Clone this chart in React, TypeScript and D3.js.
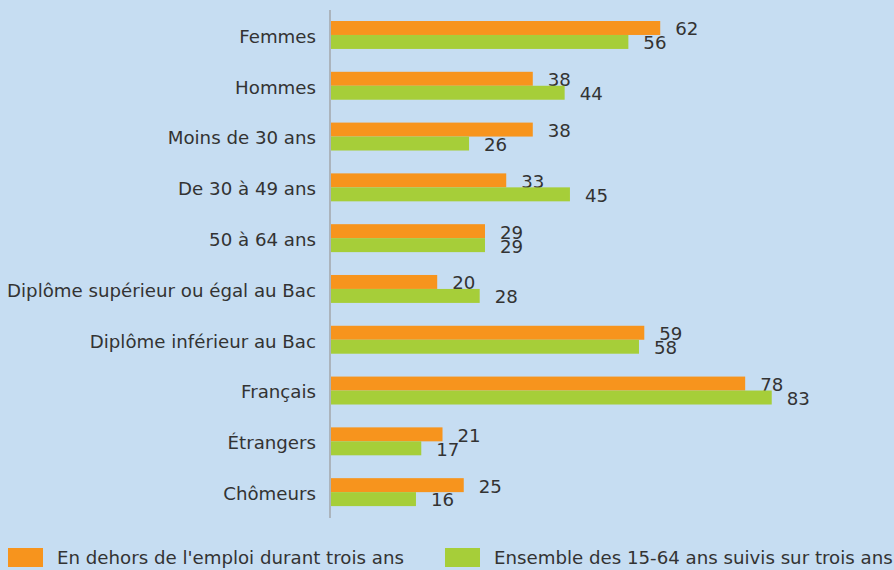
import React from "react";
import * as d3 from "d3";

const categories = [
  "Femmes",
  "Hommes",
  "Moins de 30 ans",
  "De 30 à 49 ans",
  "50 à 64 ans ",
  "Diplôme supérieur ou égal au Bac",
  "Diplôme inférieur au Bac",
  "Français",
  "Étrangers",
  "Chômeurs",
];
const horsEmploi = [62, 38, 38, 33, 29, 20, 59, 78, 21, 25];
const ensemble = [56, 44, 26, 45, 29, 28, 58, 83, 17, 16];
const seriesNames = [
  "En dehors de l'emploi durant trois ans",
  "Ensemble des 15-64 ans suivis sur trois ans",
];
const colors = ["#F7941D", "#A6CE39"];

export default function App() {
  const W = 894;
  const H = 570;
  const x0 = 331;
  const x = d3.scaleLinear().domain([0, 100]).range([x0, x0 + 531]);
  const y = d3
    .scaleBand<string>()
    .domain(categories)
    .range([8.3, 518.8])
    .paddingInner(0.45)
    .paddingOuter(0.25);
  const inner = d3
    .scaleBand<number>()
    .domain([0, 1])
    .range([0, y.bandwidth()]);
  const font = "'DejaVu Sans', Verdana, sans-serif";
  const fs = 18.2;
  const series = [horsEmploi, ensemble];
  return (
    <svg
      width={W}
      height={H}
      style={{ position: "absolute", left: 0, top: 0, display: "block" }}
      fontFamily={font}
    >
      <rect x={0} y={0} width={W} height={H} fill="#C6DDF2" />
      {categories.map((c, i) => {
        const gy = y(c)!;
        return (
          <g key={c}>
            <text
              x={316}
              y={gy + y.bandwidth() / 2 + 1.5}
              dy="0.35em"
              textAnchor="end"
              fontSize={fs}
              fill="#333"
            >
              {c}
            </text>
            {series.map((s, k) => (
              <g key={k}>
                <rect
                  x={x(0)}
                  y={gy + inner(k)!}
                  width={x(s[i]) - x(0)}
                  height={inner.bandwidth()}
                  fill={colors[k]}
                />
                <text
                  x={x(s[i]) + 15}
                  y={gy + inner(k)! + inner.bandwidth() / 2 + 1}
                  dy="0.35em"
                  fontSize={fs}
                  fill="#333"
                >
                  {s[i]}
                </text>
              </g>
            ))}
          </g>
        );
      })}
      <line x1={330} x2={330} y1={10} y2={518} stroke="#999" strokeWidth={1.2} />
      {seriesNames.map((n, k) => {
        const lx = k === 0 ? 8 : 445;
        return (
          <g key={n}>
            <rect x={lx} y={548} width={35} height={19} fill={colors[k]} />
            <text x={lx + 49} y={558} dy="0.35em" fontSize={fs} fill="#333">
              {n}
            </text>
          </g>
        );
      })}
    </svg>
  );
}
